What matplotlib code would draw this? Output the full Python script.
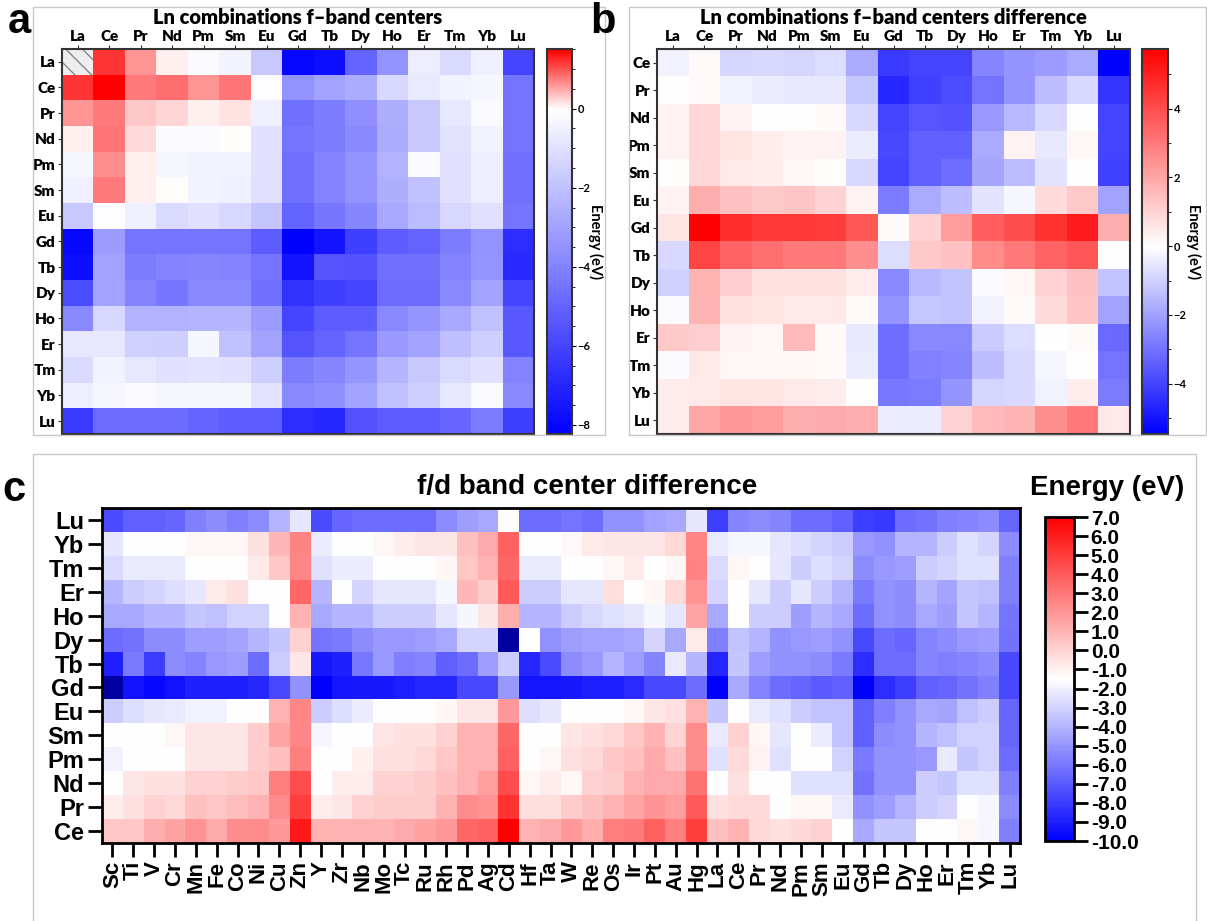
import numpy as np
import matplotlib
matplotlib.use("Agg")
import matplotlib.pyplot as plt
from matplotlib.colors import LinearSegmentedColormap
from matplotlib.patches import Rectangle
from matplotlib.ticker import MultipleLocator, FormatStrFormatter

# ---- data -------------------------------------------------------------
ln = ["La", "Ce", "Pr", "Nd", "Pm", "Sm", "Eu", "Gd", "Tb", "Dy", "Ho", "Er", "Tm", "Yb", "Lu"]

# panel a: f-band centers of Ln-Ln combinations (rows La..Lu, cols La..Lu)
fband_centers = [
    [np.nan, 1.2, 0.6, 0.1, -0.2, -0.4, -1.8, -8.0, -7.8, -5.0, -3.5, -0.6, -1.2, -0.5, -6.0],
    [1.2, 1.5, 0.75, 0.85, 0.6, 0.8, -0.05, -3.5, -3.0, -2.7, -1.3, -0.7, -0.4, -0.3, -4.5],
    [0.6, 0.75, 0.3, 0.25, 0.1, 0.15, -0.5, -4.6, -4.2, -3.6, -2.6, -1.8, -0.8, -0.2, -4.5],
    [0.1, 0.8, 0.2, -0.2, -0.2, 0.0, -1.0, -4.5, -4.2, -3.8, -2.7, -1.8, -0.9, -0.4, -4.5],
    [-0.3, 0.65, 0.1, -0.3, -0.4, -0.4, -1.0, -4.6, -4.0, -3.5, -2.5, -0.2, -1.0, -0.6, -4.6],
    [-0.5, 0.75, 0.1, 0.0, -0.4, -0.5, -1.0, -4.6, -4.0, -3.5, -2.6, -2.0, -1.0, -0.6, -4.6],
    [-1.8, -0.05, -0.5, -1.2, -1.0, -1.3, -1.9, -5.0, -4.4, -3.9, -2.8, -2.2, -1.3, -1.0, -4.5],
    [-8.0, -3.2, -4.5, -4.5, -4.5, -4.5, -5.2, -8.23, -7.6, -6.2, -5.2, -5.0, -4.2, -3.5, -6.8],
    [-7.8, -3.0, -4.2, -4.0, -3.9, -4.0, -4.5, -7.6, -5.5, -5.6, -4.6, -4.6, -4.0, -3.4, -6.9],
    [-5.8, -3.0, -4.0, -4.4, -3.8, -3.8, -4.6, -6.6, -6.2, -6.0, -4.8, -4.8, -3.8, -3.0, -6.0],
    [-3.8, -1.3, -2.5, -2.5, -2.4, -2.4, -3.2, -6.0, -5.2, -5.2, -3.8, -3.4, -2.8, -2.0, -5.4],
    [-0.8, -0.8, -1.5, -1.6, -0.3, -2.0, -3.0, -5.5, -5.0, -4.5, -3.3, -3.0, -2.1, -1.6, -5.4],
    [-1.2, -0.4, -0.8, -1.0, -0.9, -1.0, -1.6, -4.2, -3.9, -3.4, -2.4, -1.8, -1.2, -1.0, -4.0],
    [-0.6, -0.3, -0.2, -0.3, -0.3, -0.3, -0.9, -3.8, -3.6, -3.0, -2.0, -1.6, -0.8, -0.2, -3.8],
    [-6.3, -4.8, -4.8, -4.8, -5.0, -5.2, -5.3, -6.8, -7.0, -5.6, -5.3, -5.3, -4.9, -4.2, -6.2],
]
a_vmin, a_vmax = -8.23, 1.51

# panel b: difference of f-band centers (rows Ce..Lu, cols La..Lu)
b_rows = ln[1:]
fband_diff = [
    [-0.3, 0.1, -0.9, -0.8, -0.9, -0.7, -1.8, -4.2, -4.0, -4.0, -2.6, -2.3, -2.1, -1.8, -5.46],
    [0.0, 0.1, -0.3, -0.4, -0.5, -0.5, -1.2, -4.6, -4.1, -3.8, -3.0, -2.3, -1.4, -0.8, -4.3],
    [0.3, 0.9, 0.3, 0.0, 0.0, 0.1, -0.8, -4.0, -3.6, -3.7, -2.2, -1.5, -0.8, 0.0, -4.0],
    [0.3, 0.9, 0.6, 0.4, 0.3, 0.3, -0.4, -3.9, -3.4, -3.4, -1.8, 0.3, -0.5, 0.2, -4.0],
    [0.05, 0.9, 0.5, 0.4, 0.2, 0.05, -0.8, -4.0, -3.4, -3.1, -1.9, -1.4, -0.6, 0.0, -4.1],
    [0.3, 1.8, 1.4, 1.2, 1.3, 1.0, 0.3, -2.8, -1.8, -1.4, -0.6, -0.2, 0.8, 1.2, -2.0],
    [0.6, 5.73, 4.7, 4.5, 4.5, 4.4, 3.8, 0.1, 1.0, 2.2, 3.6, 4.0, 4.6, 5.1, 1.8],
    [-0.8, 4.2, 3.5, 3.2, 3.0, 3.0, 2.5, -0.7, 1.2, 1.4, 2.6, 3.0, 3.5, 3.8, 0.0],
    [-1.0, 1.7, 1.1, 0.7, 0.7, 0.7, 0.4, -2.5, -1.5, -1.3, -0.1, 0.2, 1.0, 1.4, -1.3],
    [-0.1, 1.7, 0.7, 0.6, 0.5, 0.5, 0.1, -2.3, -1.2, -1.3, -0.3, 0.1, 0.8, 1.3, -2.0],
    [1.2, 1.1, 0.3, 0.2, 1.5, 0.1, -0.5, -3.1, -2.5, -2.5, -1.1, -0.7, 0.0, 0.1, -3.2],
    [-0.1, 0.5, 0.2, 0.2, 0.2, 0.1, -0.4, -3.1, -2.7, -2.6, -1.4, -0.8, -0.2, 0.0, -3.0],
    [0.4, 0.5, 0.6, 0.6, 0.5, 0.4, 0.0, -2.9, -2.8, -2.3, -0.9, -0.8, -0.3, 0.4, -2.8],
    [0.4, 2.0, 2.3, 2.2, 1.8, 1.9, 1.8, -0.4, -0.4, 1.0, 1.5, 1.7, 2.5, 3.0, 0.5],
]
b_vmin, b_vmax = -5.46, 5.73

# panel c: f/d band center difference (rows Lu..Ce from top, cols = d metals + Ln)
c_rows = ["Lu", "Yb", "Tm", "Er", "Ho", "Dy", "Tb", "Gd", "Eu", "Sm", "Pm", "Nd", "Pr", "Ce"]
c_cols = ["Sc", "Ti", "V", "Cr", "Mn", "Fe", "Co", "Ni", "Cu", "Zn",
          "Y", "Zr", "Nb", "Mo", "Tc", "Ru", "Rh", "Pd", "Ag", "Cd",
          "Hf", "Ta", "W", "Re", "Os", "Ir", "Pt", "Au", "Hg"] + ln
fd_diff = [
    [-7.5, -6.8, -6.8, -6.6, -5.7, -5.3, -5.7, -5.3, -4.0, -2.3,
     -7.5, -6.6, -6.4, -6.4, -6.4, -6.4, -5.3, -4.7, -4.4, -1.5,
     -6.4, -6.4, -6.1, -6.4, -5.1, -5.1, -4.6, -4.4, -2.3,
     -7.9, -5.6, -5.3, -5.6, -6.4, -6.4, -6.8, -7.9, -8.1, -6.4, -6.2, -5.75, -5.6, -5.3, -6.6],
    [-2.3, -1.5, -1.5, -1.5, -1.2, -1.2, -1.2, -0.5, 0.9, 2.6,
     -2.1, -1.5, -1.5, -1.2, -0.9, -0.65, -0.65, 0.6, 1.3, 3.8,
     -1.5, -1.5, -1.25, -0.8, -0.65, -0.65, -0.65, -0.2, 2.6,
     -2.2, -1.8, -1.8, -2.3, -2.6, -2.9, -3.2, -4.9, -5.1, -4.0, -4.0, -3.2, -2.5, -2.9, -5.3],
    [-2.7, -2.2, -2.2, -2.2, -1.5, -1.5, -1.5, -0.8, 0.4, 2.5,
     -2.5, -2.1, -2.1, -1.5, -1.5, -1.5, -1.2, 0.4, 1.05, 3.6,
     -2.2, -2.2, -1.5, -1.5, -1.2, -0.8, -1.5, -1.2, 2.6,
     -2.7, -1.2, -1.5, -2.3, -3.2, -2.6, -2.9, -5.3, -4.9, -4.7, -3.2, -2.9, -2.5, -2.5, -5.75],
    [-3.9, -3.2, -2.9, -2.6, -2.3, -0.8, -0.5, -1.5, -1.5, 3.6,
     -3.9, -1.5, -2.9, -2.3, -2.3, -2.3, -1.8, 0.9, 0.2, 4.0,
     -3.2, -3.2, -2.3, -2.3, -0.4, -1.5, -1.2, -0.2, 2.1,
     -2.9, -1.5, -2.3, -3.2, -2.3, -3.2, -4.0, -5.9, -5.1, -5.3, -4.0, -4.5, -3.4, -3.6, -5.75],
    [-4.4, -4.4, -4.0, -4.0, -3.4, -3.6, -3.0, -3.0, -1.5, 1.05,
     -4.4, -4.0, -4.0, -3.2, -3.2, -3.2, -2.3, -1.8, -0.65, 1.2,
     -4.0, -4.0, -3.2, -2.8, -2.5, -2.3, -1.8, -2.3, 1.5,
     -4.4, -1.5, -3.2, -3.2, -4.7, -3.9, -4.4, -6.4, -5.1, -5.3, -4.4, -4.7, -3.4, -4.0, -6.1],
    [-6.4, -6.2, -5.3, -5.3, -4.7, -4.7, -4.5, -3.9, -3.4, 0.0,
     -6.1, -5.9, -5.3, -4.9, -4.9, -4.7, -4.4, -2.9, -2.9, -11.5,
     -1.5, -5.2, -4.7, -4.6, -4.6, -4.4, -2.9, -4.4, -0.8,
     -5.75, -3.5, -4.0, -5.1, -4.9, -4.7, -5.1, -7.6, -6.4, -6.6, -5.6, -5.3, -4.9, -4.7, -6.2],
    [-9.0, -5.9, -8.0, -5.3, -5.6, -4.9, -4.7, -6.4, -3.2, -0.65,
     -9.2, -8.9, -6.0, -4.9, -5.75, -5.6, -6.8, -6.4, -4.7, -3.2,
     -8.7, -7.5, -5.3, -4.9, -4.0, -4.7, -5.6, -2.2, -3.9,
     -8.8, -3.4, -4.7, -5.1, -5.1, -5.3, -5.9, -8.5, -6.4, -6.4, -5.6, -5.75, -5.6, -5.3, -7.6],
    [-11.5, -9.4, -9.7, -9.4, -8.9, -8.9, -8.9, -8.7, -7.6, -5.1,
     -10.0, -9.3, -9.2, -9.2, -9.0, -8.7, -8.7, -7.6, -7.6, -4.9,
     -9.3, -9.3, -9.2, -9.0, -9.0, -8.6, -7.6, -7.6, -6.4,
     -10.0, -4.4, -5.6, -6.4, -6.6, -7.0, -6.8, -10.0, -8.5, -7.9, -6.8, -6.6, -6.2, -5.75, -7.6],
    [-3.2, -2.6, -2.3, -2.2, -1.9, -1.9, -1.5, -1.5, 1.05, 2.5,
     -3.2, -2.6, -2.1, -1.5, -1.5, -1.5, -1.2, -0.65, -0.65, 1.9,
     -2.6, -2.3, -1.5, -1.5, -1.5, -1.2, -0.65, -0.5, 1.05,
     -3.4, -1.5, -2.2, -2.5, -3.2, -3.5, -3.5, -6.8, -5.75, -5.1, -4.4, -4.5, -3.6, -3.2, -6.6],
    [-1.5, -1.5, -1.5, -1.2, -0.65, -0.65, -0.65, 0.2, 1.5, 2.5,
     -1.8, -1.5, -1.5, -0.65, -0.5, -0.5, 0.0, 1.05, 1.05, 3.6,
     -1.5, -1.5, -0.65, -0.5, -0.2, 0.4, 1.05, -0.1, 2.3,
     -2.2, 0.0, -1.2, -2.3, -1.5, -2.1, -3.5, -6.8, -5.3, -5.1, -4.0, -3.6, -3.0, -3.0, -6.6],
    [-1.9, -1.5, -1.5, -1.5, -0.65, -0.65, -0.65, 0.2, 0.6, 2.75,
     -1.5, -1.5, -1.0, -0.5, -0.5, -0.2, 0.4, 1.05, 1.05, 3.8,
     -1.5, -1.2, -0.5, -0.2, 0.4, 0.6, 1.3, 0.6, 2.3,
     -2.5, -0.3, -1.1, -2.5, -1.5, -1.5, -3.0, -5.9, -5.1, -5.1, -4.9, -2.2, -3.4, -3.0, -6.4],
    [-1.5, -0.65, -0.5, -0.5, 0.0, 0.0, 0.2, 0.4, 2.75, 4.45,
     -1.5, -0.9, -0.9, 0.0, 0.0, 0.2, 0.6, 1.05, 1.7, 4.45,
     -1.2, -0.9, -1.2, 0.0, 0.2, 1.05, 1.3, 1.3, 3.2,
     -1.5, -0.5, -1.5, -1.5, -2.5, -2.5, -2.5, -6.2, -5.1, -5.1, -3.2, -3.4, -2.5, -2.5, -5.75],
    [-0.9, -0.5, 0.0, -0.2, 0.6, 0.4, 0.7, 1.05, 2.3, 4.9,
     -0.9, -0.65, 0.0, 0.2, 0.2, 0.2, 1.05, 2.3, 2.1, 5.3,
     -0.4, -0.4, 0.2, 0.6, 1.05, 1.5, 2.1, 1.7, 4.0,
     -0.5, -0.3, -0.3, -1.5, -1.2, -1.2, -2.2, -5.1, -4.7, -4.0, -3.2, -2.9, -1.5, -1.8, -5.3],
    [0.4, 0.4, 1.2, 1.6, 2.1, 1.3, 2.3, 2.3, 1.9, 6.2,
     1.05, 1.05, 1.05, 1.05, 1.3, 1.6, 1.9, 3.6, 3.8, 7.0,
     1.05, 1.3, 1.9, 1.2, 2.75, 2.9, 3.8, 2.75, 4.9,
     0.6, 1.05, -0.2, -0.5, -0.2, 0.0, -1.5, -4.4, -3.4, -3.4, -1.5, -1.5, -1.2, -1.8, -5.75],
]
c_vmin, c_vmax = -10.0, 7.0
c_ticks = np.arange(-10, 8, 1.0)

# ---- figure -------------------------------------------------------------
W, H = 1207, 921
fig = plt.figure(figsize=(W / 100, H / 100), dpi=100)


def box(x0, y0, x1, y1):
    """figure-fraction rect from pixel box (top-left origin)"""
    return [x0 / W, 1 - y1 / H, (x1 - x0) / W, (y1 - y0) / H]


def frame(x0, y0, x1, y1):
    fig.patches.append(Rectangle((x0 / W, 1 - y1 / H), (x1 - x0) / W, (y1 - y0) / H,
                                 transform=fig.transFigure, fill=False,
                                 edgecolor="#c8c8c8", lw=1.0, zorder=0))


def diverging(vmin, vmax, name):
    f = -vmin / (vmax - vmin)
    return LinearSegmentedColormap.from_list(name, [(0, "#0000ff"), (f, "#ffffff"), (1, "#ff0000")])


LATO = "Lato"
ARIAL = "Liberation Sans"

frame(33, 7, 605, 435)
frame(629, 7, 1206, 435)
frame(33, 454, 1196, 925)


def ln_heatmap(ax_rect, cax_rect, data, rows, cols, vmin, vmax, title, title_x, minor, label_x):
    ax = fig.add_axes(box(*ax_rect))
    cax = fig.add_axes(box(*cax_rect))
    vals = np.array(data, dtype=float)
    cmap = diverging(vmin, vmax, title)
    mesh = ax.pcolormesh(np.ma.masked_invalid(vals), cmap=cmap, vmin=vmin, vmax=vmax)
    for i, j in zip(*np.where(np.isnan(vals))):
        ax.add_patch(Rectangle((j, i), 1, 1, facecolor="#eeeeee", edgecolor="#8a8a8a",
                               hatch="\\\\", lw=0))
    ax.set_xlim(0, len(cols))
    ax.set_ylim(len(rows), 0)
    ax.set_xticks(np.arange(len(cols)) + 0.5)
    ax.set_xticklabels(cols)
    ax.set_yticks(np.arange(len(rows)) + 0.5)
    ax.set_yticklabels(rows)
    ax.xaxis.tick_top()
    ax.tick_params(length=3, width=0.8, pad=1.5, color="#333333")
    for lab in ax.get_xticklabels() + ax.get_yticklabels():
        lab.set_fontfamily(LATO)
        lab.set_fontweight("heavy")
        lab.set_fontsize(11)
    for s in ax.spines.values():
        s.set_linewidth(1.5)
        s.set_edgecolor("#333333")

    cb = fig.colorbar(mesh, cax=cax)
    cb.outline.set_linewidth(1.5)
    cb.outline.set_edgecolor("#333333")
    cb.ax.yaxis.set_major_locator(MultipleLocator(2))
    cb.ax.yaxis.set_minor_locator(MultipleLocator(minor))
    cb.ax.tick_params(which="major", length=3, width=0.8, pad=1, labelsize=8)
    cb.ax.tick_params(which="minor", length=2, width=0.6)
    for lab in cb.ax.get_yticklabels():
        lab.set_fontfamily(LATO)
        lab.set_fontweight("bold")
    fig.text(title_x / W, 1 - 17 / H, title, ha="center", va="center",
             fontsize=14.5, fontweight="heavy", family=LATO)
    fig.text(label_x / W, 1 - 242 / H, "Energy (eV)", rotation=270, ha="center", va="center",
             fontsize=10.5, fontweight="bold", family=LATO)
    return ax


ln_heatmap((62, 49, 534, 434), (547, 49, 572, 434), fband_centers, ln, ln,
           a_vmin, a_vmax, "Ln combinations f\u2013band centers", 298, 0.5, 596)
ln_heatmap((657, 49, 1130, 434), (1142, 49, 1168, 434), fband_diff, b_rows, ln,
           b_vmin, b_vmax, "Ln combinations f\u2013band centers difference", 893, 1.0, 1194)

# ---- panel c -------------------------------------------------------------
axc = fig.add_axes(box(102, 508, 1020, 843))
caxc = fig.add_axes(box(1045, 517, 1074, 841))
cmap_c = plt.get_cmap("bwr").copy()
cmap_c.set_under("#0000a0")
cvals = np.array(fd_diff)
mesh_c = axc.pcolormesh(cvals, cmap=cmap_c, vmin=c_vmin, vmax=c_vmax)
axc.set_xlim(0, len(c_cols))
axc.set_ylim(len(c_rows), 0)
axc.set_xticks(np.arange(len(c_cols)) + 0.5)
axc.set_xticklabels(c_cols, rotation=90)
axc.set_yticks(np.arange(len(c_rows)) + 0.5)
axc.set_yticklabels(c_rows)
axc.tick_params(length=10, width=2, pad=3, color="black")
for lab in axc.get_xticklabels():
    lab.set_fontfamily(ARIAL)
    lab.set_fontweight("bold")
    lab.set_fontsize(16)
for lab in axc.get_yticklabels():
    lab.set_fontfamily(ARIAL)
    lab.set_fontweight("bold")
    lab.set_fontsize(17)
for s in axc.spines.values():
    s.set_linewidth(2)

cbc = fig.colorbar(mesh_c, cax=caxc, ticks=c_ticks)
cbc.outline.set_linewidth(2)
cbc.ax.yaxis.set_major_formatter(FormatStrFormatter("%.1f"))
cbc.ax.tick_params(length=10, width=2, pad=2, labelsize=15)
for lab in cbc.ax.get_yticklabels():
    lab.set_fontfamily(ARIAL)
    lab.set_fontweight("bold")

fig.text(587 / W, 1 - 487 / H, "f/d band center difference", ha="center", va="center",
         fontsize=20, fontweight="bold", family=ARIAL)
fig.text(1107 / W, 1 - 488 / H, "Energy (eV)", ha="center", va="center",
         fontsize=20, fontweight="bold", family=ARIAL)

# panel letters
for letter, (px, py) in {"a": (19, 22), "b": (603, 22), "c": (14, 490)}.items():
    fig.text(px / W, 1 - py / H, letter, ha="center", va="center",
             fontsize=30, fontweight="bold", family=ARIAL)

fig.savefig("out.png", dpi=100)
